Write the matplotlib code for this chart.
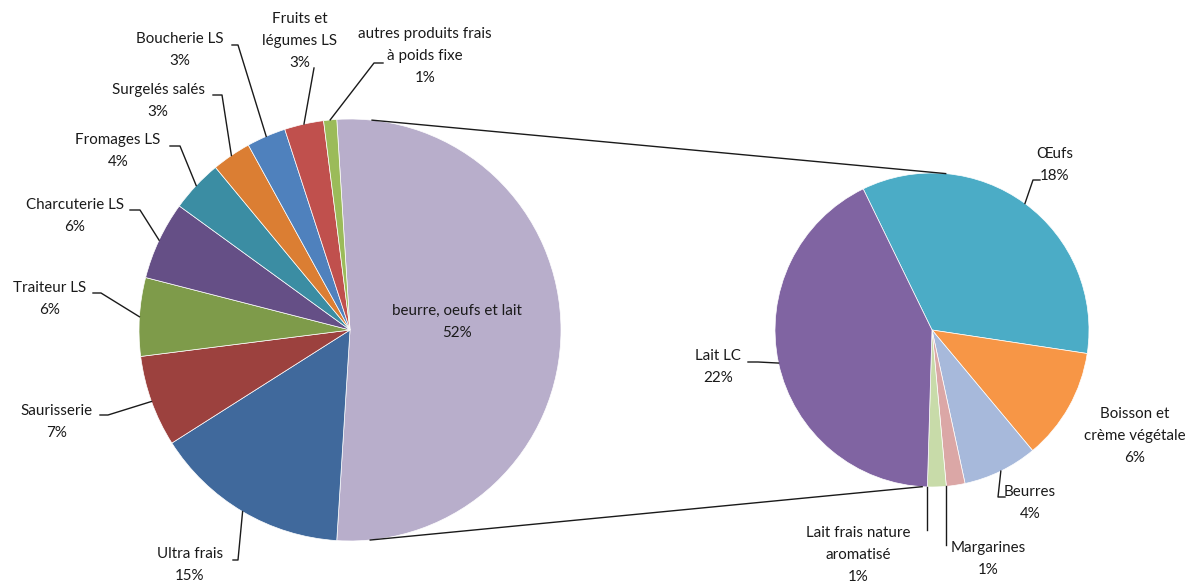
import numpy as np
import matplotlib.pyplot as plt

plt.rcParams['font.family'] = ['Lato', 'DejaVu Sans']

# Main pie: share of each fresh-food family
main_labels = ['beurre, oeufs et lait', 'Ultra frais', 'Saurisserie', 'Traiteur LS',
               'Charcuterie LS', 'Fromages LS', 'Surgelés salés', 'Boucherie LS',
               'Fruits et\nlégumes LS', 'autres produits frais\nà poids fixe']
main_values = [52, 15, 7, 6, 6, 4, 3, 3, 3, 1]
main_colors = ['#B8AECB', '#40699C', '#9C413E', '#7E9B4A', '#654F86',
               '#3B8DA3', '#DB7E33', '#4F81BD', '#C0504D', '#9BBB59']

# Secondary pie: breakdown of "beurre, oeufs et lait"
sub_labels = ['Œufs', 'Boisson et\ncrème végétale', 'Beurres', 'Margarines',
              'Lait frais nature\naromatisé', 'Lait LC']
sub_values = [18, 6, 4, 1, 1, 22]
sub_colors = ['#4BACC6', '#F79646', '#A7B9DB', '#DBA7A6', '#C8DBA9', '#8064A2']

W, H = 1199, 584
fig = plt.figure(figsize=(W / 100, H / 100), dpi=100)
ax = fig.add_axes([0, 0, 1, 1])


def P(x, y):
    # pixel-style coordinates (y down) -> axes data coordinates
    return x, H - y


c1, r1 = P(350, 330), 211
c2, r2 = P(932, 330), 157

# first slice centred on the right-hand side
start1 = main_values[0] / sum(main_values) * 360 / 2
wedges1, _ = ax.pie(main_values, colors=main_colors, startangle=start1, counterclock=False,
                    center=c1, radius=r1, wedgeprops=dict(edgecolor='white', linewidth=0.5))
start2 = 116
wedges2, _ = ax.pie(sub_values, colors=sub_colors, startangle=start2, counterclock=False,
                    center=c2, radius=r2, wedgeprops=dict(edgecolor='white', linewidth=0.5))

ax.set_xlim(0, W)
ax.set_ylim(0, H)
ax.set_aspect('equal')
ax.axis('off')


def edge_point(center, r, ang):
    a = np.deg2rad(ang)
    return center[0] + r * np.cos(a), center[1] + r * np.sin(a)


def mid_point(w, center, r):
    return edge_point(center, r, (w.theta1 + w.theta2) / 2)


# connector lines between the two pies
for a1, a2 in [(84, 85), (-84.5, -93.6)]:
    p1 = edge_point(c1, r1, a1)
    p2 = edge_point(c2, r2, a2)
    ax.plot([p1[0], p2[0]], [p1[1], p2[1]], color='#1a1a1a', lw=1)

txt = dict(fontsize=10.9, color='#1a1a1a', ha='center', va='center', linespacing=1.75)
line = dict(color='#1a1a1a', lw=1)

# label text position and leader knee (None = no leader)
main_pos = [(457, 322, None), (190, 565, (233, 560, 238)), (57, 422, (100, 415, 108)),
            (50, 299, (93, 293, 101)), (75, 216, (130, 210, 140)), (118, 151, (170, 146, 180)),
            (158, 101, (213, 95, 222)), (180, 50, (232, 45, 238)), (300, 41, (314, 68, 314)),
            (425, 56, (383, 63, 374))]
sub_pos = [(1055, 165, (1040, 180, 1033)), (1135, 436, None), (1030, 503, (1005, 497, 998)),
           (988, 559, (946, 545, 946)), (858, 555, (927, 530, 927)), (718, 367, (748, 362, 758))]


def leader(knee, end):
    kx, ky, kx2 = knee
    x0, y0 = P(kx, ky)
    x1, _ = P(kx2, ky)
    ax.plot([x0, x1, end[0]], [y0, y0, end[1]], **line)


for w, lab, val, pos in zip(wedges1, main_labels, main_values, main_pos):
    x, y, knee = pos
    ax.text(*P(x, y), f'{lab}\n{val}%', **txt)
    if knee:
        leader(knee, mid_point(w, c1, r1))

for w, lab, val, pos in zip(wedges2, sub_labels, sub_values, sub_pos):
    x, y, knee = pos
    ax.text(*P(x, y), f'{lab}\n{val}%', **txt)
    if not knee:
        continue
    if val == 1:
        # thin slices: vertical leader straight up to the rim
        ex = knee[2]
        end = (ex, c2[1] - np.sqrt(r2 ** 2 - (ex - c2[0]) ** 2))
    else:
        end = mid_point(w, c2, r2)
    leader(knee, end)

fig.savefig('out.png', dpi=100)
